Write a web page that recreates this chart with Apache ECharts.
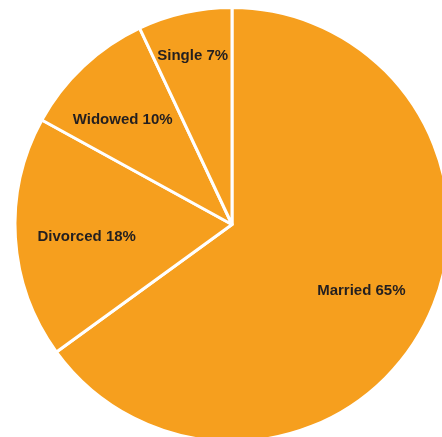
<!DOCTYPE html>
<html>
<head>
<meta charset="utf-8">
<script src="https://cdn.jsdelivr.net/npm/echarts@6/dist/echarts.min.js"></script>
<style>
  html, body { margin: 0; padding: 0; background: #ffffff; }
  #chart { width: 442px; height: 437px; }
</style>
</head>
<body>
<div id="chart"></div>
<script>
// Marital status breakdown, in percent, clockwise from 12 o'clock
const categories = ['Married', 'Divorced', 'Widowed', 'Single'];
const shares = [65, 18, 10, 7];

// Nudges that move each label from the slice's default inner spot
const labelShift = [
  [30, 16],
  [-34, 5],
  [-33, -23],
  [-15, -60]
];

const chart = echarts.init(document.getElementById('chart'), null, { renderer: 'canvas' });

chart.setOption({
  animation: false,
  series: [{
    type: 'pie',
    center: [232, 224.5],
    radius: [0, 217],
    startAngle: 90,
    clockwise: true,
    avoidLabelOverlap: false,
    emphasis: { disabled: true },
    itemStyle: {
      color: '#F69F1E',
      borderColor: '#ffffff',
      borderWidth: 3
    },
    label: {
      show: true,
      position: 'inside',
      formatter: p => p.name + ' ' + p.value + '%',
      color: '#231F20',
      fontFamily: 'Liberation Sans, Arial, sans-serif',
      fontWeight: 'bold',
      fontSize: 15
    },
    labelLine: { show: false },
    labelLayout: p => ({ dx: labelShift[p.dataIndex][0], dy: labelShift[p.dataIndex][1] }),
    data: categories.map((name, i) => ({ name, value: shares[i] }))
  }]
});
</script>
</body>
</html>
